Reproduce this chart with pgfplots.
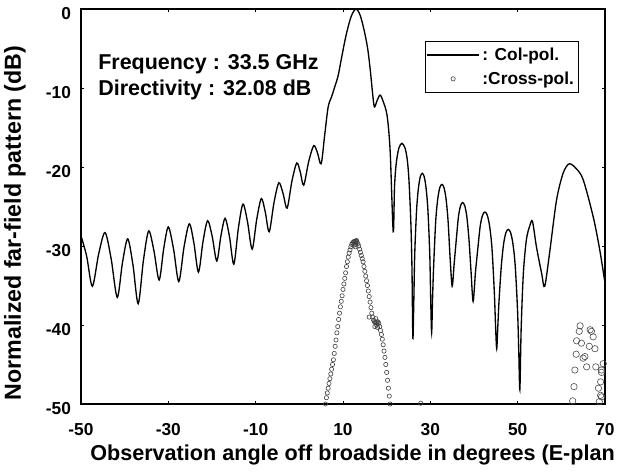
\documentclass[border=0pt]{standalone}
\usepackage{fontspec}
\setmainfont{Liberation Sans}
\usepackage{pgfplots}
\pgfplotsset{compat=1.18}

\begin{document}
\begin{tikzpicture}
\begin{axis}[
  scale only axis,
  width=393pt, height=296.25pt,
  xmin=-50, xmax=70, ymin=-50, ymax=0,
  xtick={-50,-30,-10,10,30,50,70},
  xticklabels={-50,-30,-10,10,30,50,70},
  ytick={-50,-40,-30,-20,-10,0},
  yticklabels={-50,-40,-30,-20,-10,0},
  major tick length=2pt,
  tick style={black, line width=0.5pt},
  axis line style={line width=0.9pt},
  xticklabel style={font=\fontsize{13}{15}\selectfont\bfseries, anchor=center, yshift=-19.5pt},
  yticklabel style={font=\fontsize{13}{15}\selectfont\bfseries, anchor=east, xshift=-4pt, yshift=-3.5pt},
  xlabel={Observation angle off broadside in degrees (E-plan},
  ylabel={Normalized far-field pattern (dB)},
  xlabel style={font=\fontsize{16.2}{19}\selectfont\bfseries, at={(axis description cs:0.0172,-0.142)}, anchor=base west, inner sep=0pt},
  ylabel style={font=\fontsize{17.4}{20}\selectfont\bfseries, at={(axis description cs:-0.126,0.458)}, anchor=center},
  legend style={at={(0.656,0.92)}, anchor=north west, draw=black, line width=0.6pt,
    font=\fontsize{13}{15}\selectfont\bfseries, inner xsep=1pt, inner ysep=3pt,
    row sep=3pt, cells={anchor=west}},
  legend image code/.code={\draw[mark repeat=2,mark phase=2,#1] plot coordinates {(0pt,0pt) (19.5pt,0pt) (39pt,0pt)};},
]
% co-polar pattern
\addplot[black, line width=1pt, smooth, tension=0.5] coordinates {
(-50,-28.7) (-48.7,-31.3) (-47.4,-35.1) (-45.95,-31.0) (-44.5,-28.3) (-43.1,-31.6)
(-41.7,-36.5) (-40.5,-32.1) (-39.3,-29.1) (-38.1,-32.4) (-36.9,-37.3) (-35.7,-31.8)
(-34.5,-28.1) (-33.3,-30.6) (-32.1,-34.3) (-31.05,-30.3) (-30.0,-27.6) (-28.8,-30.4)
(-27.6,-34.5) (-26.4,-30.1) (-25.2,-27.2) (-24.15,-29.6) (-23.1,-33.3) (-22.05,-29.4)
(-21.0,-26.8) (-19.95,-28.8) (-18.9,-31.9) (-17.95,-28.7) (-17.0,-26.5) (-16.0,-28.8)
(-15.0,-32.3) (-13.95,-27.7) (-12.9,-24.7) (-11.85,-27.0) (-10.8,-30.4) (-9.75,-26.6)
(-8.7,-24.0) (-7.8,-25.7) (-6.9,-28.2) (-5.8,-24.5) (-4.7,-22.0) (-3.75,-23.3)
(-2.8,-25.2) (-1.7,-21.8) (-0.6,-19.5) (0.2,-20.6) (1.0,-22.3) (2.15,-19.3)
(3.3,-17.3) (4.15,-18.2) (5.0,-19.6) (5.8,-16.0) (6.6,-12.4) (7.4,-11.1)
(8.2,-9.7) (8.9,-8.4) (9.8,-5.8) (10.8,-3.1) (11.9,-0.9) (13.0,0)
(14.0,-0.9) (15.0,-3.1) (15.7,-5.2) (16.3,-8.0) (16.8,-10.8) (17.2,-12.4)
(17.8,-11.6) (18.5,-10.9) (19.2,-11.7) (20.1,-13.5) (20.8,-18.0) (21.5,-28.2)
(21.8,-22.5) (22.2,-19.5) (22.8,-17.6) (23.5,-17.0) (24.2,-17.6) (24.7,-19.0)
(25.1,-21.6) (25.55,-27.2) (25.8,-33.0) (26.0,-41.7) (26.22,-36.9) (26.43,-31.0)
(26.86,-25.4) (27.29,-22.6) (27.72,-21.2) (28.15,-20.8) (28.58,-21.2) (29.01,-22.6)
(29.44,-25.4) (29.87,-31.0) (30.09,-36.9) (30.3,-41.0) (30.52,-36.5) (30.77,-32.4)
(31.24,-26.8) (31.71,-24.0) (32.18,-22.6) (32.65,-22.2) (33.12,-22.6) (33.59,-24.0)
(34.06,-26.8) (34.53,-31.5) (35.0,-35.1) (35.45,-32.3) (35.96,-29.1) (36.44,-26.3)
(36.92,-24.9) (37.4,-24.5) (37.88,-24.9) (38.36,-26.3) (38.84,-29.1) (39.32,-33.2)
(39.8,-37.0) (40.34,-33.3) (40.88,-30.3) (41.42,-27.5) (41.96,-26.1) (42.5,-25.7)
(43.04,-26.1) (43.58,-27.5) (44.12,-30.3) (44.66,-35.9) (44.93,-40.0) (45.2,-43.0)
(45.47,-40.0) (45.73,-37.0) (46.26,-32.5) (46.79,-29.7) (47.32,-28.3) (47.85,-27.9)
(48.38,-28.3) (48.91,-29.7) (49.44,-32.5) (49.97,-38.1) (50.24,-43.0) (50.5,-48.2)
(50.8,-40.5) (51.3,-33.5) (52.0,-29.2) (52.8,-27.4) (53.4,-26.9) (54.3,-30.1)
(55.5,-33.5) (56.2,-35.1) (57.4,-30.5) (58.9,-24.2) (60.4,-20.8) (61.8,-19.6)
(63.4,-20.2) (65.0,-21.6) (67.3,-26.3) (68.8,-30.5) (70.0,-34.7)
};
\addlegendentry{: Col-pol.}
% cross-polar pattern
\addplot[only marks, mark=o, mark size=1.6pt, black!75, mark options={line width=0.45pt}] coordinates {
(6.0,-50.0) (6.2,-49.2) (6.4,-48.6) (6.6,-48.0) (6.8,-47.4) (7.0,-46.8) (7.2,-46.2)
(7.4,-45.6) (7.6,-45.0) (7.8,-44.4) (8.0,-43.6) (8.2,-42.7) (8.4,-41.9) (8.6,-41.0)
(8.8,-40.2) (9.0,-39.3) (9.2,-38.5) (9.4,-37.7) (9.6,-37.0) (9.8,-36.3) (10.0,-35.5)
(10.2,-34.8) (10.4,-34.1) (10.6,-33.4) (10.8,-32.6) (11.0,-32.0) (11.2,-31.4) (11.4,-30.9)
(11.6,-30.5) (11.8,-30.1) (12.0,-29.8) (12.2,-29.6) (12.4,-29.5) (12.6,-29.4) (12.8,-29.4)
(13.0,-29.4) (13.2,-29.5) (12.5,-29.9) (12.7,-29.6) (12.9,-29.8) (13.1,-29.3) (12.8,-30.1)
(13.4,-29.7) (13.6,-30.0) (13.8,-30.4) (14.0,-30.8) (14.2,-31.2) (14.4,-31.6) (14.6,-32.0)
(14.8,-32.6) (15.0,-33.2) (15.2,-33.8) (15.4,-34.4) (15.6,-35.0) (15.8,-35.7) (16.0,-36.4)
(16.2,-37.1) (16.4,-37.8) (16.6,-38.5) (16.8,-39.0) (17.0,-39.4) (17.2,-39.6) (17.4,-39.7)
(17.6,-39.7) (17.8,-39.6) (18.0,-39.6) (18.2,-39.8) (18.4,-40.2) (18.6,-40.7) (18.8,-41.2)
(17.3,-40.2) (17.9,-40.3) (17.5,-39.2) (16.0,-39.0) (17.7,-40.0)
(19.0,-41.8) (19.2,-42.5) (19.4,-43.3) (19.6,-44.1) (19.8,-45.0) (20.0,-46.0) (20.2,-47.0)
(20.4,-48.0) (20.6,-49.0) (20.8,-50.0) (27.8,-49.9)
};
\addlegendentry{:Cross-pol.}
\addplot[only marks, mark=o, mark size=2.4pt, black!70, mark options={line width=0.45pt}, forget plot] coordinates {
(64.3,-40.1) (64.1,-40.8) (63.5,-42.0) (64.6,-42.3) (66.9,-40.8) (67.3,-41.5) (66.4,-42.7)
(67.7,-43.0) (63.4,-43.7) (65.4,-44.0) (65.8,-45.3) (63.1,-45.7) (67.9,-45.3) (69.6,-44.9)
(69.2,-45.7) (62.9,-47.8) (69.0,-47.2) (68.5,-48.0) (69.0,-48.9) (62.6,-49.6) (68.7,-49.7)
(68.8,-50.1) (66.6,-40.6) (65.0,-44.2) (69.2,-46.0) (69.2,-49.1)
};
\node[anchor=base west, inner sep=0pt, font=\fontsize{16.1}{19}\selectfont\bfseries] at (axis cs:-46.1,-7.72) {Frequency : 33.5 GHz};
\node[anchor=base west, inner sep=0pt, font=\fontsize{16.1}{19}\selectfont\bfseries] at (axis cs:-46.1,-10.9) {Directivity : 32.08 dB};
\coordinate (SW) at (rel axis cs:0,0);
\end{axis}
\pgfresetboundingbox
\path[use as bounding box] (SW) ++(-60.75pt,-53.25pt) rectangle ++(464.25pt,356.25pt);
\end{tikzpicture}
\end{document}
